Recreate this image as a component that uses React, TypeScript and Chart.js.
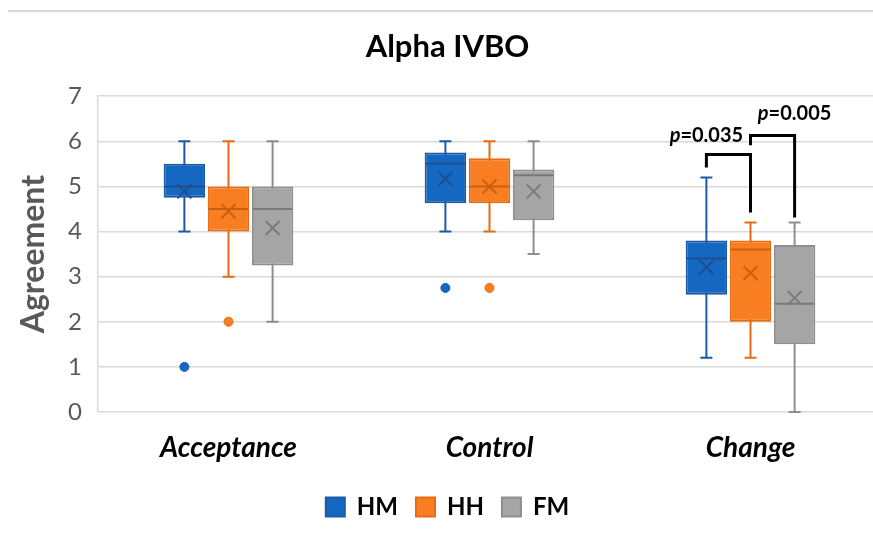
import React, { useEffect, useRef } from "react";
import { Chart, registerables } from "chart.js";

Chart.register(...registerables);

const categories = ["Acceptance", "Control", "Change"];
const seriesNames = ["HM", "HH", "FM"];

const hmLow = [4, 4, 1.2];
const hmQ1 = [4.75, 4.625, 2.6];
const hmMedian = [5, 5.5, 3.4];
const hmQ3 = [5.5, 5.75, 3.8];
const hmHigh = [6, 6, 5.2];
const hmMean = [4.89, 5.17, 3.21];
const hmOutliers = [[1], [2.75], []];

const hhLow = [3, 4, 1.2];
const hhQ1 = [4, 4.625, 2];
const hhMedian = [4.5, 5, 3.6];
const hhQ3 = [5, 5.625, 3.8];
const hhHigh = [6, 6, 4.2];
const hhMean = [4.45, 5.0, 3.08];
const hhOutliers = [[2], [2.75], []];

const fmLow = [2, 3.5, 0];
const fmQ1 = [3.25, 4.25, 1.5];
const fmMedian = [4.5, 5.25, 2.4];
const fmQ3 = [5, 5.375, 3.7];
const fmHigh = [6, 6, 4.2];
const fmMean = [4.08, 4.89, 2.53];
const fmOutliers = [[], [], []];

const yTicks = [0, 1, 2, 3, 4, 5, 6, 7];

// significance brackets (Change category)
const sigCategory = [2, 2];
const sigFromSeries = [0, 1];
const sigToSeries = [1, 2];
const sigTopValue = [5.71, 6.13];
const sigFromEnd = [5.42, 5.91];
const sigToEnd = [4.42, 4.31];
const sigPValues = ["0.035", "0.005"];
const sigLabelSeries = [0, 2];
const sigLabelValue = [6.13, 6.62];

const fills = ["#1468C2", "#F97E22", "#A5A5A5"];
const borders = ["#1B5BA6", "#E46C12", "#8E8E8E"];
const marks = ["#1F4F8A", "#C9600F", "#7A7A7A"];

const lows = [hmLow, hhLow, fmLow];
const q1s = [hmQ1, hhQ1, fmQ1];
const medians = [hmMedian, hhMedian, fmMedian];
const q3s = [hmQ3, hhQ3, fmQ3];
const highs = [hmHigh, hhHigh, fmHigh];
const means = [hmMean, hhMean, fmMean];
const outliers = [hmOutliers, hhOutliers, fmOutliers];

const FONT = "Lato";

const boxPlugin = {
  id: "boxExtras",
  beforeDraw(chart: any) {
    const ctx = chart.ctx;
    ctx.save();
    ctx.strokeStyle = "#D9D9D9";
    ctx.lineWidth = 2;
    ctx.beginPath();
    ctx.moveTo(8, 11);
    ctx.lineTo(chart.width, 11);
    ctx.stroke();
    ctx.restore();
  },
  beforeDatasetsDraw(chart: any) {
    const ctx = chart.ctx;
    const y = chart.scales.y;
    ctx.save();
    for (let s = 0; s < 3; s++) {
      const meta = chart.getDatasetMeta(s);
      meta.data.forEach((el: any, i: number) => {
        const { x } = el.getProps(["x"], true);
        ctx.strokeStyle = borders[s];
        ctx.lineWidth = 2;
        const yl = y.getPixelForValue(lows[s][i]);
        const yh = y.getPixelForValue(highs[s][i]);
        ctx.beginPath();
        ctx.moveTo(x, yl);
        ctx.lineTo(x, yh);
        ctx.moveTo(x - 6, yl);
        ctx.lineTo(x + 6, yl);
        ctx.moveTo(x - 6, yh);
        ctx.lineTo(x + 6, yh);
        ctx.stroke();
      });
    }
    ctx.restore();
  },
  afterDatasetsDraw(chart: any) {
    const ctx = chart.ctx;
    const y = chart.scales.y;
    ctx.save();
    for (let s = 0; s < 3; s++) {
      const meta = chart.getDatasetMeta(s);
      meta.data.forEach((el: any, i: number) => {
        const { x, width } = el.getProps(["x", "width"], true);
        const half = width / 2 - 1;
        ctx.strokeStyle = marks[s];
        ctx.lineWidth = 2;
        const ym = y.getPixelForValue(medians[s][i]);
        ctx.beginPath();
        ctx.moveTo(x - half, ym);
        ctx.lineTo(x + half, ym);
        ctx.stroke();
        const yv = y.getPixelForValue(means[s][i]);
        const d = 7;
        ctx.beginPath();
        ctx.moveTo(x - d, yv - d);
        ctx.lineTo(x + d, yv + d);
        ctx.moveTo(x + d, yv - d);
        ctx.lineTo(x - d, yv + d);
        ctx.stroke();
        outliers[s][i].forEach((v: number) => {
          const yo = y.getPixelForValue(v);
          ctx.beginPath();
          ctx.arc(x, yo, 4.5, 0, Math.PI * 2);
          ctx.fillStyle = fills[s];
          ctx.fill();
          ctx.lineWidth = 1;
          ctx.strokeStyle = borders[s];
          ctx.stroke();
        });
      });
    }
    // significance brackets
    ctx.strokeStyle = "#000";
    ctx.lineWidth = 3;
    ctx.lineJoin = "miter";
    for (let k = 0; k < sigPValues.length; k++) {
      const c = sigCategory[k];
      const xa = chart.getDatasetMeta(sigFromSeries[k]).data[c].x;
      const xb = chart.getDatasetMeta(sigToSeries[k]).data[c].x;
      const yt = y.getPixelForValue(sigTopValue[k]);
      ctx.beginPath();
      ctx.moveTo(xa, y.getPixelForValue(sigFromEnd[k]));
      ctx.lineTo(xa, yt);
      ctx.lineTo(xb, yt);
      ctx.lineTo(xb, y.getPixelForValue(sigToEnd[k]));
      ctx.stroke();
      const xl = chart.getDatasetMeta(sigLabelSeries[k]).data[c].x;
      const yl = y.getPixelForValue(sigLabelValue[k]);
      ctx.fillStyle = "#000";
      ctx.textBaseline = "middle";
      const fItal = `italic bold 20px ${FONT}`;
      const fBold = `bold 20px ${FONT}`;
      const rest = "=" + sigPValues[k];
      ctx.font = fItal;
      const wp = ctx.measureText("p").width;
      ctx.font = fBold;
      const wr = ctx.measureText(rest).width;
      const x0 = xl - (wp + wr) / 2;
      ctx.font = fItal;
      ctx.textAlign = "left";
      ctx.fillText("p", x0, yl);
      ctx.font = fBold;
      ctx.fillText(rest, x0 + wp, yl);
    }
    ctx.restore();
  },
};

export default function App() {
  const ref = useRef<HTMLCanvasElement>(null);
  useEffect(() => {
    if (!ref.current) return;
    const datasets = seriesNames.map((name, s) => ({
      label: name,
      data: categories.map((_, i) => [q1s[s][i], q3s[s][i]]),
      backgroundColor: fills[s],
      borderColor: borders[s],
      borderWidth: 2,
      borderSkipped: false,
      categoryPercentage: 0.507,
      barPercentage: 0.94,
    }));
    const chart = new Chart(ref.current, {
      type: "bar",
      data: { labels: categories, datasets },
      options: {
        animation: false,
        responsive: false,
        layout: { padding: { left: 14, right: 0, top: 0, bottom: 17 } },
        plugins: {
          tooltip: { enabled: false },
          title: {
            display: true,
            text: "Alpha IVBO",
            color: "#000",
            font: { family: FONT, size: 31, weight: "bold" },
            padding: { top: 28, bottom: 31 },
          },
          legend: {
            position: "bottom",
            labels: {
              boxWidth: 19,
              boxHeight: 19,
              padding: 18,
              color: "#000",
              font: { family: FONT, size: 24, weight: "bold" },
            },
          },
        },
        scales: {
          x: {
            grid: { display: false },
            border: { display: false },
            ticks: {
              color: "#000",
              padding: 11,
              font: { family: FONT, size: 28, weight: "bold", style: "italic" },
            },
            afterFit: (scale: any) => {
              scale.height = 65;
            },
          },
          y: {
            min: 0,
            max: 7,
            afterBuildTicks: (scale: any) => {
              scale.ticks = yTicks.map((v) => ({ value: v }));
            },
            grid: { color: "#D9D9D9", lineWidth: 1.5, drawTicks: false },
            border: { display: true, color: "#D9D9D9", width: 1.5 },
            ticks: {
              color: "#595959",
              padding: 16,
              font: { family: FONT, size: 24 },
            },
            title: {
              display: true,
              text: "Agreement",
              color: "#595959",
              font: { family: FONT, size: 32, weight: "bold" },
              padding: { top: 0, bottom: 0 },
            },
            afterFit: (scale: any) => {
              scale.width = 84;
            },
          },
        },
      },
      plugins: [boxPlugin],
    });
    return () => chart.destroy();
  }, []);
  return (
    <div
      style={{
        position: "absolute",
        left: 0,
        top: 0,
        width: 873,
        height: 546,
        overflow: "hidden",
      }}
    >
      <canvas ref={ref} width={881} height={546} style={{ display: "block" }} />
    </div>
  );
}
